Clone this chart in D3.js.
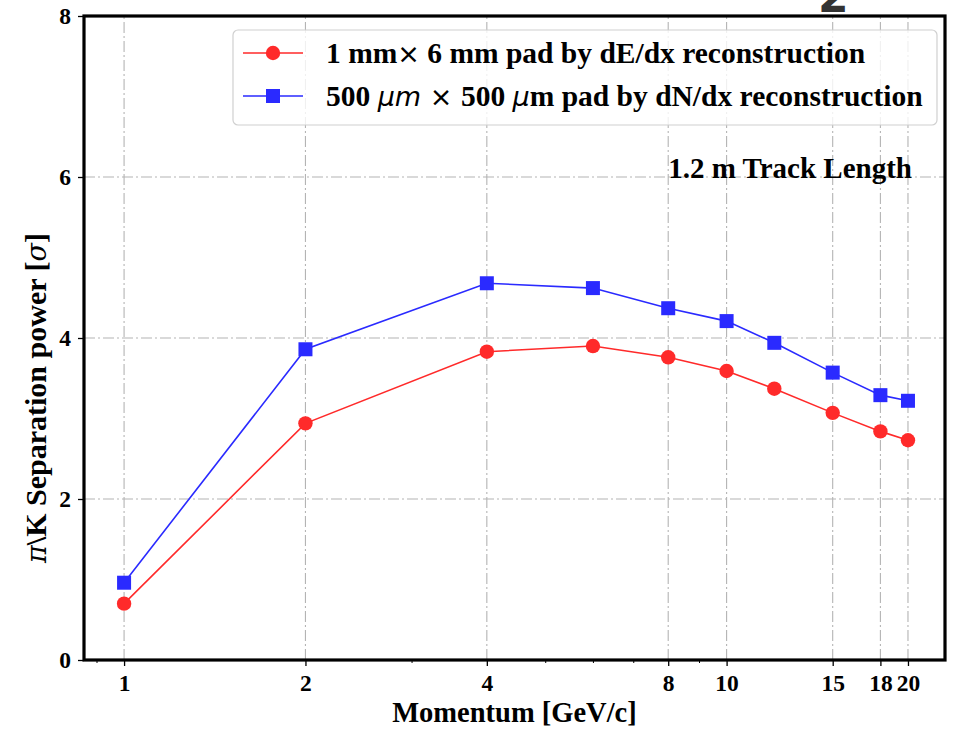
<!DOCTYPE html>
<html>
<head>
<meta charset="utf-8">
<script src="https://cdn.jsdelivr.net/npm/d3@7"></script>
<style>
  body { margin: 0; background: #fff; }
  text { font-family: "Liberation Serif", "DejaVu Serif", serif; font-weight: bold; }
</style>
</head>
<body>
<div id="chart"></div>
<script>
// data
const momentum = [1, 2, 4, 6, 8, 10, 12, 15, 18, 20];
const dEdx = [0.70, 2.94, 3.83, 3.90, 3.76, 3.59, 3.37, 3.07, 2.84, 2.73];
const dNdx = [0.96, 3.86, 4.68, 4.62, 4.37, 4.21, 3.94, 3.57, 3.29, 3.22];
const xTicks = [1, 2, 4, 8, 10, 15, 18, 20];
const xMinorTicks = [0.9, 3, 5, 6, 7, 9];
const yTicks = [0, 2, 4, 6, 8];

const width = 954;
const height = 729;
const margin = {left: 84, right: 9, top: 16, bottom: 69};
const red = "#ff2a2a";
const blue = "#2a2aff";

const svg = d3.select("#chart")
    .append("svg")
    .attr("width", width)
    .attr("height", height);

const x = d3.scaleLog()
    .domain([0.858, 23.04])
    .range([margin.left, width - margin.right]);
const y = d3.scaleLinear()
    .domain([0, 8])
    .range([height - margin.bottom, margin.top]);

// cropped digit left over at the top of the figure
svg.append("text")
    .attr("x", 818)
    .attr("y", 12)
    .style("font-family", "'DejaVu Sans', sans-serif")
    .style("font-size", "44px")
    .style("fill", "#333")
    .text("2");

// grid, dash-dot
const grid = svg.append("g")
    .style("stroke", "#b4b4b4")
    .style("stroke-width", 1.1)
    .style("stroke-dasharray", "11,3,2,3");
grid.selectAll("line.gx")
    .data(xTicks)
    .enter()
    .append("line")
    .attr("x1", d => x(d))
    .attr("x2", d => x(d))
    .attr("y1", y(0))
    .attr("y2", y(8));
grid.selectAll("line.gy")
    .data(yTicks.slice(1, -1))
    .enter()
    .append("line")
    .attr("x1", x.range()[0])
    .attr("x2", x.range()[1])
    .attr("y1", d => y(d))
    .attr("y2", d => y(d));

// axes
const xAxis = d3.axisBottom(x)
    .tickValues(xTicks)
    .tickFormat(d3.format("d"))
    .tickSize(6)
    .tickPadding(8);
const gx = svg.append("g")
    .attr("transform", `translate(0,${y(0)})`)
    .call(xAxis);

svg.append("g")
    .attr("transform", `translate(0,${y(0)})`)
    .call(d3.axisBottom(x).tickValues(xMinorTicks).tickFormat("").tickSize(3))
    .select(".domain").remove();

const yAxis = d3.axisLeft(y)
    .tickValues(yTicks)
    .tickSize(6)
    .tickPadding(7);
const gy = svg.append("g")
    .attr("transform", `translate(${x.range()[0]},0)`)
    .call(yAxis);

[gx, gy].forEach(g => {
    g.select(".domain").remove();
    g.selectAll(".tick line").style("stroke", "#000").style("stroke-width", 1.3);
    g.selectAll(".tick text")
        .style("font-size", "23.5px")
        .style("font-family", "'Liberation Serif', serif")
        .style("font-weight", "bold")
        .style("fill", "#000");
});

// frame
svg.append("rect")
    .attr("x", x.range()[0])
    .attr("y", y(8))
    .attr("width", x.range()[1] - x.range()[0])
    .attr("height", y(0) - y(8))
    .style("fill", "none")
    .style("stroke", "#000")
    .style("stroke-width", 3.2);

// series
const series = [
    {name: "red", values: dEdx, color: red, shape: "circle"},
    {name: "blue", values: dNdx, color: blue, shape: "square"}
];

const line = d3.line()
    .x(d => x(d[0]))
    .y(d => y(d[1]));

series.forEach(s => {
    const pts = momentum.map((m, i) => [m, s.values[i]]);
    svg.append("path")
        .datum(pts)
        .attr("d", line)
        .style("fill", "none")
        .style("stroke", s.color)
        .style("stroke-width", 1.6);
    if (s.shape == "circle") {
        svg.selectAll("circle.m" + s.name)
            .data(pts)
            .enter()
            .append("circle")
            .attr("cx", d => x(d[0]))
            .attr("cy", d => y(d[1]))
            .attr("r", 7.2)
            .style("fill", s.color);
    } else {
        svg.selectAll("rect.m" + s.name)
            .data(pts)
            .enter()
            .append("rect")
            .attr("x", d => x(d[0]) - 7)
            .attr("y", d => y(d[1]) - 7)
            .attr("width", 14)
            .attr("height", 14)
            .style("fill", s.color);
    }
});

// legend
const legend = svg.append("g");
legend.append("rect")
    .attr("x", 233)
    .attr("y", 30)
    .attr("width", 704)
    .attr("height", 95)
    .attr("rx", 5)
    .style("fill", "rgba(255,255,255,0.8)")
    .style("stroke", "#d0d0d0")
    .style("stroke-width", 1.2);

const legendRows = [
    {color: red, shape: "circle", y: 53, label: "1 mm"},
    {color: blue, shape: "square", y: 96, label: null}
];
legendRows.forEach(r => {
    legend.append("line")
        .attr("x1", 243).attr("x2", 303)
        .attr("y1", r.y).attr("y2", r.y)
        .style("stroke", r.color)
        .style("stroke-width", 1.6);
    if (r.shape == "circle") {
        legend.append("circle").attr("cx", 273).attr("cy", r.y).attr("r", 7.2).style("fill", r.color);
    } else {
        legend.append("rect").attr("x", 266).attr("y", r.y - 7).attr("width", 14).attr("height", 14).style("fill", r.color);
    }
});
const t1 = legend.append("text")
    .attr("x", 326).attr("y", 63)
    .style("font-size", "29.5px");
t1.append("tspan").text("1 mm");
t1.append("tspan").style("font-family", "'DejaVu Sans', sans-serif").style("font-weight", "normal").style("font-size", "27px").text("\u00d7");
t1.append("tspan").text(" 6 mm pad by dE/dx reconstruction");

const t2 = legend.append("text")
    .attr("x", 326).attr("y", 106)
    .style("font-size", "29.5px");
t2.append("tspan").text("500 ");
t2.append("tspan").style("font-family", "'DejaVu Sans', sans-serif").style("font-style", "italic").style("font-weight", "normal").style("font-size", "27px").text("\u03bcm");
t2.append("tspan").style("font-family", "'DejaVu Sans', sans-serif").style("font-weight", "normal").style("font-size", "27px").text(" \u00d7 ");
t2.append("tspan").text(" 500 ");
t2.append("tspan").style("font-family", "'DejaVu Sans', sans-serif").style("font-style", "italic").style("font-weight", "normal").style("font-size", "27px").text("\u03bc");
t2.append("tspan").text("m pad by dN/dx reconstruction");

// annotation
svg.append("text")
    .attr("x", 912)
    .attr("y", 178)
    .attr("text-anchor", "end")
    .style("font-size", "29px")
    .text("1.2 m Track Length");

// axis titles
svg.append("text")
    .attr("x", (x.range()[0] + x.range()[1]) / 2)
    .attr("y", 722)
    .attr("text-anchor", "middle")
    .style("font-size", "28.5px")
    .text("Momentum [GeV/c]");

const yt = svg.append("text")
    .attr("transform", "translate(46,398) rotate(-90)")
    .attr("text-anchor", "middle")
    .style("font-size", "30px");
yt.append("tspan").style("font-family", "'DejaVu Serif', serif").style("font-style", "italic").style("font-weight", "normal").style("font-size", "27px").text("\u03c0");
yt.append("tspan").text("\\K Separation power [");
yt.append("tspan").style("font-family", "'DejaVu Serif', serif").style("font-style", "italic").style("font-weight", "normal").style("font-size", "27px").text("\u03c3");
yt.append("tspan").text("]");
</script>
</body>
</html>
